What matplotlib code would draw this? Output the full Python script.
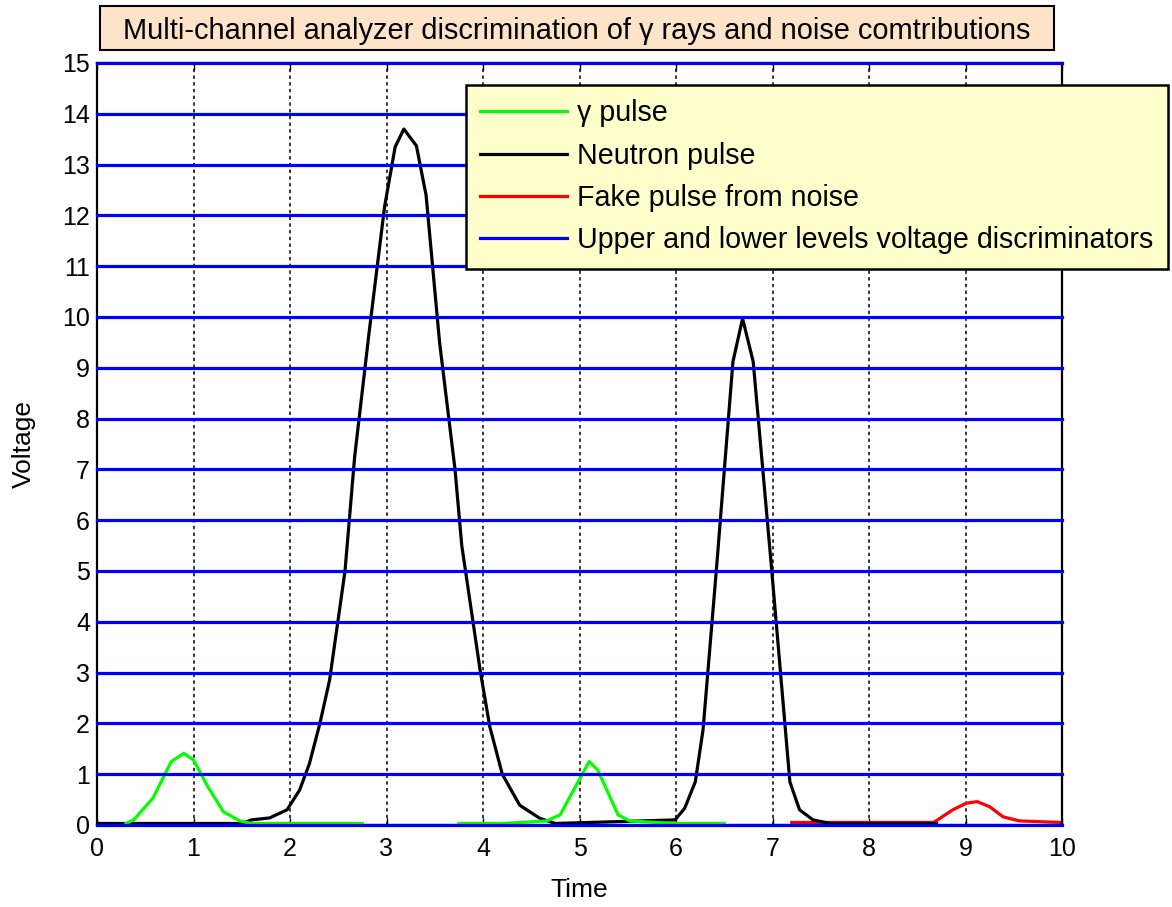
"""MCA discrimination chart: gamma, neutron and noise pulses against voltage levels."""

import matplotlib

matplotlib.use("Agg")
import matplotlib.pyplot as plt
import numpy as np
from matplotlib.patches import Rectangle

nan = np.nan

# gamma pulses (two windows, separated by NaN)
gamma_t = [0.3, 0.38, 0.58, 0.77, 0.9, 1.0, 1.15, 1.31, 1.48, 1.6, 2.0, 2.75, nan,
           3.75, 4.2, 4.66, 4.8, 5.1, 5.19, 5.4, 5.52, 6.0, 6.5]
gamma_v = [0.03, 0.1, 0.53, 1.25, 1.41, 1.28, 0.75, 0.26, 0.08, 0.03, 0.03, 0.03, nan,
           0.03, 0.03, 0.08, 0.2, 1.25, 1.08, 0.2, 0.08, 0.03, 0.03]

# neutron pulses
neutron_t = [0, 1.5, 1.6, 1.79, 1.97, 2.1, 2.2, 2.31, 2.41, 2.57, 2.67, 2.82, 2.98, 3.09,
             3.18, 3.31, 3.41, 3.55, 3.71, 3.78, 3.97, 4.07, 4.2, 4.38, 4.59, 4.75,
             5.99, 6.09, 6.2, 6.28, 6.42, 6.59, 6.69, 6.8, 6.99, 7.18, 7.28, 7.42, 7.6, 8.7]
neutron_v = [0.03, 0.03, 0.1, 0.14, 0.3, 0.69, 1.2, 2.0, 2.85, 5.0, 7.25, 9.7, 12.17, 13.35,
             13.7, 13.37, 12.4, 9.5, 7.0, 5.5, 3.05, 1.94, 1.0, 0.39, 0.13, 0.03,
             0.1, 0.33, 0.85, 1.87, 5.06, 9.12, 9.97, 9.12, 5.06, 0.85, 0.3, 0.1, 0.03, 0.03]

# fake pulse from noise
noise_t = [7.2, 7.4, 8.67, 8.87, 9.01, 9.12, 9.25, 9.39, 9.56, 10]
noise_v = [0.05, 0.05, 0.05, 0.3, 0.43, 0.46, 0.36, 0.16, 0.08, 0.05]

# discriminator levels
levels = list(range(16))

x_ticks = list(range(11))
y_ticks = list(range(16))

title = "Multi-channel analyzer discrimination of \u03b3 rays and noise comtributions"

plt.rcParams["font.family"] = ["Liberation Sans", "DejaVu Sans"]
plt.rcParams["font.size"] = 18

fig = plt.figure(figsize=(11.72, 9.07), dpi=100)
ax = fig.add_axes([97 / 1172, 82 / 907, 965 / 1172, 762 / 907])

lw = 2.3
ax.plot(noise_t, noise_v, color="#ff0000", lw=lw, zorder=2, label="Fake pulse from noise")
ax.plot(neutron_t, neutron_v, color="black", lw=lw, zorder=3, label="Neutron pulse")
ax.plot(gamma_t, gamma_v, color="#00ff00", lw=lw, zorder=4, label="\u03b3 pulse")
for i, lv in enumerate(levels):
    ax.axhline(lv, color="#0000ff", lw=lw, zorder=5, clip_on=False,
               label="Upper and lower levels voltage discriminators" if i == 0 else None)

for xv in x_ticks[1:-1]:
    ax.axvline(xv, color="black", lw=1.1, ls=(0, (2.2, 2.2)), zorder=1)

ax.set_xlim(0, 10)
ax.set_ylim(0, 15)
ax.set_xticks(x_ticks)
ax.set_yticks(y_ticks)
ax.tick_params(direction="in", top=True, right=True, length=5, width=1, labelsize=18, pad=5)
ax.tick_params(axis="x", pad=9)
for sp in ax.spines.values():
    sp.set_linewidth(1.6)
ax.set_xlabel("Time", fontsize=19, labelpad=12)
ax.set_ylabel("Voltage", fontsize=19, labelpad=19)

h, l = ax.get_legend_handles_labels()
order = [2, 1, 0, 3]
leg = ax.legend([h[k] for k in order], [l[k] for k in order], loc="upper right",
                bbox_to_anchor=(1168 / 1172, (907 - 85) / 907), bbox_transform=fig.transFigure,
                fancybox=False, framealpha=1, facecolor="#ffffcc", edgecolor="black",
                fontsize=20.6, handlelength=3.05, handletextpad=0.36, labelspacing=0.5,
                borderpad=0.5, borderaxespad=0)
leg.get_frame().set_linewidth(1.8)
leg.set_zorder(10)

fig.patches.append(Rectangle((100 / 1172, (907 - 50) / 907), 954 / 1172, 44 / 907,
                             transform=fig.transFigure, facecolor="#fde3c8",
                             edgecolor="black", lw=1.5))
fig.text(577 / 1172, (907 - 31) / 907, title, ha="center", va="center", fontsize=20.9)

fig.savefig("out.png", dpi=100)
